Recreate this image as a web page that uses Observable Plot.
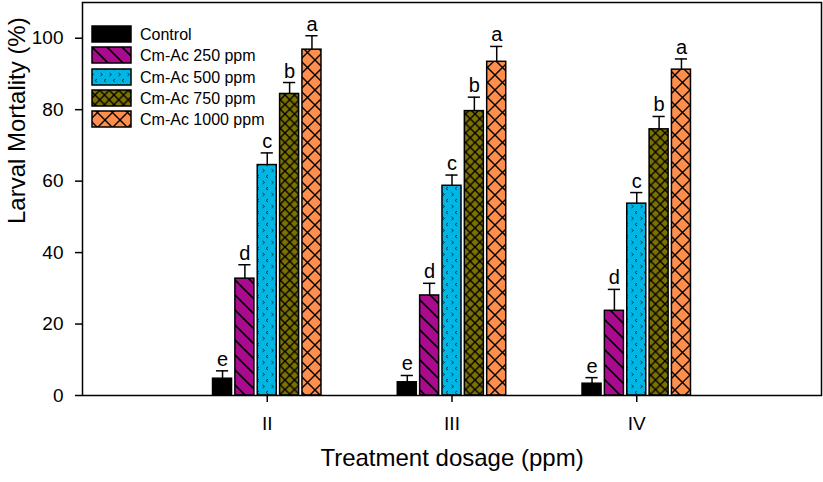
<!DOCTYPE html>
<html>
<head>
<meta charset="utf-8">
<script src="https://cdn.jsdelivr.net/npm/d3@7"></script>
<script src="https://cdn.jsdelivr.net/npm/@observablehq/plot@0.6"></script>
<style>
  html, body { margin: 0; padding: 0; background: #fff; }
  svg { font-family: "Liberation Sans", Arial, sans-serif; }
</style>
</head>
<body>
<div id="chart"></div>
<script>
// ---- Data ----
const groups = ["II", "III", "IV"];
const groupPos = [2, 3, 4];
const series = ["Control", "Cm-Ac 250 ppm", "Cm-Ac 500 ppm", "Cm-Ac 750 ppm", "Cm-Ac 1000 ppm"];
const controlVals = [4.7, 3.7, 3.3];
const ac250Vals   = [32.7, 28.0, 23.7];
const ac500Vals   = [64.5, 58.7, 53.7];
const ac750Vals   = [84.4, 79.6, 74.5];
const ac1000Vals  = [96.8, 93.4, 91.2];
const controlErr = [2.2, 1.9, 1.7];
const ac250Err   = [3.9, 3.4, 6.0];
const ac500Err   = [3.4, 3.0, 3.1];
const ac750Err   = [3.2, 3.9, 3.6];
const ac1000Err  = [3.9, 4.3, 3.0];
const letters = ["e", "d", "c", "b", "a"];
const yTicks = [0, 20, 40, 60, 80, 100];

const allVals = [controlVals, ac250Vals, ac500Vals, ac750Vals, ac1000Vals];
const allErr = [controlErr, ac250Err, ac500Err, ac750Err, ac1000Err];
const fills = ["#000000", "url(#p250)", "url(#p500)", "url(#p750)", "url(#p1000)"];

const step = 0.121, half = 0.0515, cap = 0.033;
const rows = [];
series.forEach((s, si) => {
  groups.forEach((g, gi) => {
    const c = groupPos[gi] + (si - 2) * step;
    rows.push({series: s, si, group: g, c, x1: c - half, x2: c + half,
      v: allVals[si][gi], top: allVals[si][gi] + allErr[si][gi], letter: letters[si]});
  });
});

const marks = [];
series.forEach((s, si) => {
  marks.push(Plot.rectY(rows.filter(d => d.si === si), {
    x1: "x1", x2: "x2", y1: 0, y2: "v", fill: fills[si], stroke: "black", strokeWidth: 1.5
  }));
});
marks.push(
  Plot.ruleX(rows, {x: "c", y1: "v", y2: "top", stroke: "black", strokeWidth: 1.5}),
  Plot.ruleY(rows, {y: "top", x1: d => d.c - cap, x2: d => d.c + cap, stroke: "black", strokeWidth: 1.5}),
  Plot.text(rows, {x: "c", y: "top", text: "letter", dy: -5, lineAnchor: "bottom", fontSize: 20, fill: "black"}),
  Plot.axisY({ticks: yTicks, tickSize: 7, tickPadding: 12, fontSize: 19, label: null, stroke: "black", strokeWidth: 1.5}),
  Plot.axisX({ticks: groupPos, tickFormat: (d) => groups[groupPos.indexOf(d)], tickSize: 7, tickPadding: 14, fontSize: 19, label: null, strokeWidth: 1.5}),
  Plot.frame({stroke: "black", strokeWidth: 1.5}),
  Plot.text(["Larval Mortality (%)"], {frameAnchor: "left", dx: -65, dy: 25, rotate: -90, fontSize: 24, fill: "black"}),
  Plot.text(["Treatment dosage (ppm)"], {frameAnchor: "bottom", dy: 70, fontSize: 24, fill: "black"})
);

const chart = Plot.plot({
  width: 823,
  height: 482,
  marginLeft: 82,
  marginRight: 2,
  marginTop: 2,
  marginBottom: 87,
  x: {type: "linear", domain: [1, 5]},
  y: {domain: [0, 110]},
  style: {fontFamily: "'Liberation Sans', Arial, sans-serif", color: "black", background: "white"},
  marks
});

// pattern definitions
const svg = d3.select(chart);
const defs = svg.insert("defs", ":first-child");
function pat(id, w, h, color, draw) {
  const p = defs.append("pattern").attr("id", id).attr("patternUnits", "userSpaceOnUse")
    .attr("width", w).attr("height", h);
  p.append("rect").attr("width", w).attr("height", h).attr("fill", color);
  draw(p);
}
pat("p250", 15, 15, "#AA0A8D", p => {
  p.append("path").attr("d", "M0,0L15,15M-2,13L2,17M13,-2L17,2").attr("stroke", "black").attr("stroke-width", 1.6);
});
pat("p500", 9, 12, "#00B6E4", p => {
  p.append("path").attr("d", "M1.5,1L3.5,2.5L1.5,4M7,7L5,8.5L7,10").attr("stroke", "#003040").attr("stroke-width", 0.9).attr("fill", "none");
});
pat("p750", 9.5, 9.5, "#7C7200", p => {
  p.append("path").attr("d", "M0,0L9.5,9.5M9.5,0L0,9.5").attr("stroke", "black").attr("stroke-width", 1.4);
});
pat("p1000", 15, 15, "#FF8E4D", p => {
  p.append("path").attr("d", "M0,0L15,15M15,0L0,15").attr("stroke", "black").attr("stroke-width", 1.4);
});

// legend
const lg = svg.append("g").attr("class", "legend").attr("text-anchor", "start");
const legendTops = [26, 47, 69, 90, 111];
series.forEach((s, i) => {
  lg.append("rect").attr("x", 92).attr("y", legendTops[i]).attr("width", 39).attr("height", 16)
    .attr("fill", fills[i]).attr("stroke", "black").attr("stroke-width", 1.5);
  lg.append("text").attr("x", 140).attr("y", legendTops[i] + 8).attr("dy", "0.36em")
    .attr("text-anchor", "start").attr("font-size", 16).attr("fill", "black").text(s);
});

document.getElementById("chart").appendChild(chart);
</script>
</body>
</html>
